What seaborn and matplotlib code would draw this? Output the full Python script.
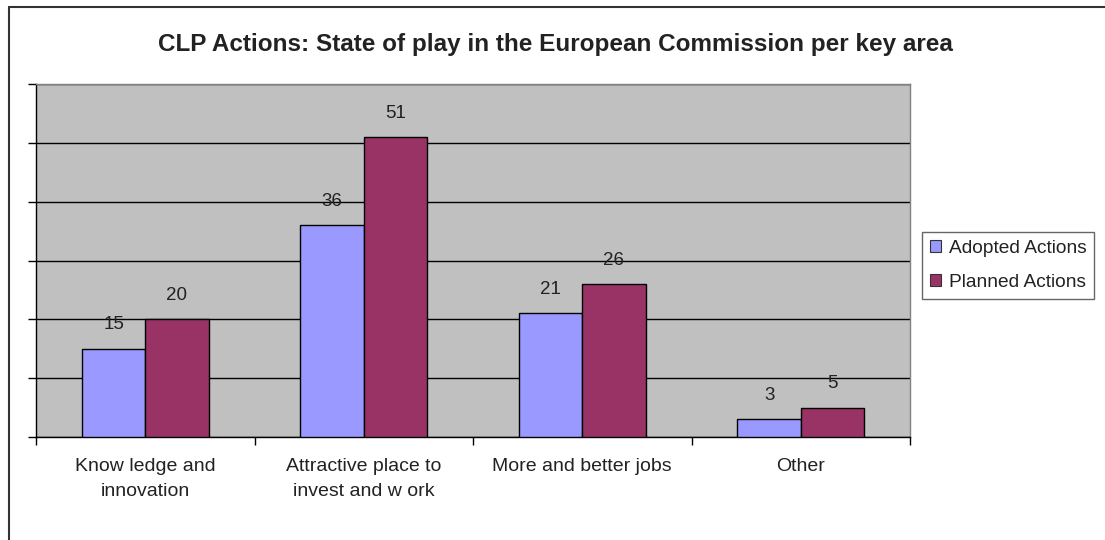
import matplotlib
matplotlib.use("Agg")
import matplotlib.pyplot as plt
from matplotlib.lines import Line2D
from matplotlib.patches import Patch
import seaborn as sns
import pandas as pd

categories = ["Know ledge and\ninnovation", "Attractive place to\ninvest and w ork",
              "More and better jobs", "Other"]
series_names = ["Adopted Actions", "Planned Actions"]
adopted = [15, 36, 21, 3]
planned = [20, 51, 26, 5]
colors = ["#9999FF", "#993366"]
title = "CLP Actions: State of play in the European Commission per key area"

df = pd.DataFrame({
    "category": categories * 2,
    "series": [series_names[0]] * 4 + [series_names[1]] * 4,
    "value": adopted + planned,
})

sns.set_style("white")
plt.rcParams["font.family"] = ["Liberation Sans", "DejaVu Sans"]

fig = plt.figure(figsize=(11.05, 5.40), dpi=100)
ax = fig.add_axes([36 / 1105, 1 - 437 / 540, (910 - 36) / 1105, (437 - 84) / 540])
ax.set_facecolor("#C0C0C0")

sns.barplot(data=df, x="category", y="value", hue="series", palette=colors,
            saturation=1, width=0.58, edgecolor="black", linewidth=1.0, ax=ax,
            legend=False, zorder=3)

ax.set_ylim(0, 60)
ax.set_xlim(-0.5, 3.5)
ax.set_yticks(range(0, 61, 10))
ax.set_yticklabels([])
ax.yaxis.grid(True, color="black", linewidth=1.0, zorder=1)
ax.set_axisbelow(True)
ax.tick_params(axis="y", direction="out", length=6, width=1, color="black", left=True)

ax.set_xticks(range(4))
ax.set_xticklabels(categories, fontsize=14, color="#222222", linespacing=1.65)
ax.tick_params(axis="x", length=0, pad=15)
ax.set_xticks([-0.5, 0.5, 1.5, 2.5, 3.5], minor=True)
ax.tick_params(axis="x", which="minor", direction="out", length=6, width=1,
               color="black", bottom=True)
ax.set_xlabel("")
ax.set_ylabel("")

for s in ["left", "bottom"]:
    ax.spines[s].set_color("black")
    ax.spines[s].set_linewidth(1.0)
for s in ["top", "right"]:
    ax.spines[s].set_visible(True)
    ax.spines[s].set_color("#808080")
    ax.spines[s].set_linewidth(1.0)

for cont in ax.containers:
    ax.bar_label(cont, padding=11, fontsize=13.5, color="#222222")

fig.text(555 / 1105, 1 - 45 / 540, title, ha="center", va="center",
         fontsize=17.5, fontweight="bold", color="#222222")

handles = [Patch(facecolor=c, edgecolor="#333333", linewidth=0.8) for c in colors]
leg = fig.legend(handles, series_names, loc="upper left",
                 bbox_to_anchor=(922 / 1105, 1 - 232 / 540), frameon=True,
                 fancybox=False, fontsize=13.8, handlelength=0.6, handleheight=0.6,
                 handletextpad=0.4, borderpad=0.4, labelspacing=0.9,
                 borderaxespad=0)
leg.get_frame().set_edgecolor("#404040")
leg.get_frame().set_linewidth(1.0)
for t in leg.get_texts():
    t.set_color("#222222")

fig.add_artist(Line2D([9 / 1105, 9 / 1105], [0, 1 - 7 / 540], color="#333333", linewidth=1.5))
fig.add_artist(Line2D([9 / 1105, 1], [1 - 7 / 540, 1 - 7 / 540], color="#333333", linewidth=1.5))

fig.savefig("out.png", dpi=100, facecolor="white")
